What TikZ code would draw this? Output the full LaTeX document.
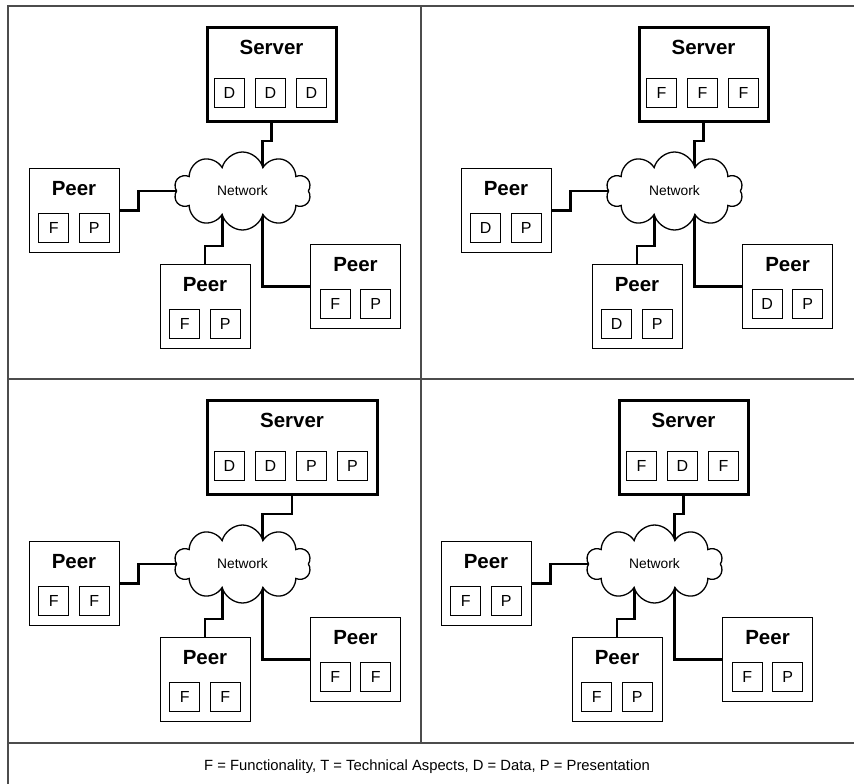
\documentclass[tikz,border=0pt]{standalone}
\usepackage{fontspec}
\setmainfont{Liberation Sans}
\usetikzlibrary{shapes.symbols,backgrounds}

\tikzset{
  box/.style={draw,line width=1pt,minimum width=90,minimum height=84,inner sep=0pt},
  srvbox/.style={draw,line width=3pt,minimum height=94,inner sep=0pt},
  part/.style={draw,line width=1pt,minimum width=30,minimum height=29,inner sep=0pt,font=\fontsize{16}{16}\selectfont},
  title/.style={font=\fontsize{20.5}{20.5}\selectfont\bfseries},
  net/.style={cloud,cloud puffs=10,cloud puff arc=150,aspect=1.75,draw,line width=1.3pt,fill=white,minimum width=137,minimum height=78,inner sep=0pt,font=\fontsize{13.8}{13.8}\selectfont},
  link/.style={line width=2.2pt},
  frame/.style={line width=1.5pt,draw=black!70}
}

\begin{document}
\begin{tikzpicture}[x=1pt,y=-1pt]
    \useasboundingbox (0,0) rectangle (854,784);
    % frame
    \draw[frame] (854,6) -- (8,6) -- (8,784);
    \draw[frame] (8,379) -- (854,379);
    \draw[frame] (421,6) -- (421,743);
    \draw[frame] (8,743) -- (854,743);
    % four set-ups
    \foreach \q/\dx/\dy/\n/\sp/\pa/\pb in {A/0/0/3/{D,D,D}/F/P, B/432/0/3/{F,F,F}/D/P, C/0/373/4/{D,D,P,P}/F/F, D/412/373/3/{F,D,F}/F/P}{
      \begin{scope}[shift={(\dx,\dy)}]
        \node[srvbox,minimum width={6+41*\n},anchor=west] (srv\q) at (205.5,74.5) {};
        \node[title] (srv\q t) at ([yshift=-21pt]srv\q.north) {Server};
        \foreach \t [count=\i] in \sp
          \node[part] (srv\q\i) at ({229.5+41*(\i-1)},93) {\t};
        \node[net] (net\q) at (242.5,191) {Network};
        \foreach \p/\x/\y in {pl/74/210.5, pb/205/306.5, pr/355.5/286.5}{
          \node[box] (\p\q) at (\x,\y) {};
          \node[title] (\p\q t) at ([yshift=-20.5pt]\p\q.north) {Peer};
          \node[part] (\p\q a) at ([xshift=-20.25pt,yshift=-17.5pt]\p\q.center) {\pa};
          \node[part] (\p\q b) at ([xshift=20.25pt,yshift=-17.5pt]\p\q.center) {\pb};
        }
        \begin{scope}[on background layer]
          \draw[link] (srv\q.south) -- ++(0,18) -| ([xshift=20pt]net\q.center);
          \draw[link] (pl\q.east) -- ++(19,0) |- (net\q.center);
          \draw[link] (pb\q.north) -- ++(0,-18) -| ([xshift=-20pt]net\q.center);
          \draw[link] (pr\q.west) -| ([xshift=20pt]net\q.center);
        \end{scope}
      \end{scope}
    }
    \node[font=\fontsize{14.8}{14.8}\selectfont] (key) at (427,767) {F = Functionality, T = Technical Aspects, D = Data, P = Presentation};
\end{tikzpicture}
\end{document}
